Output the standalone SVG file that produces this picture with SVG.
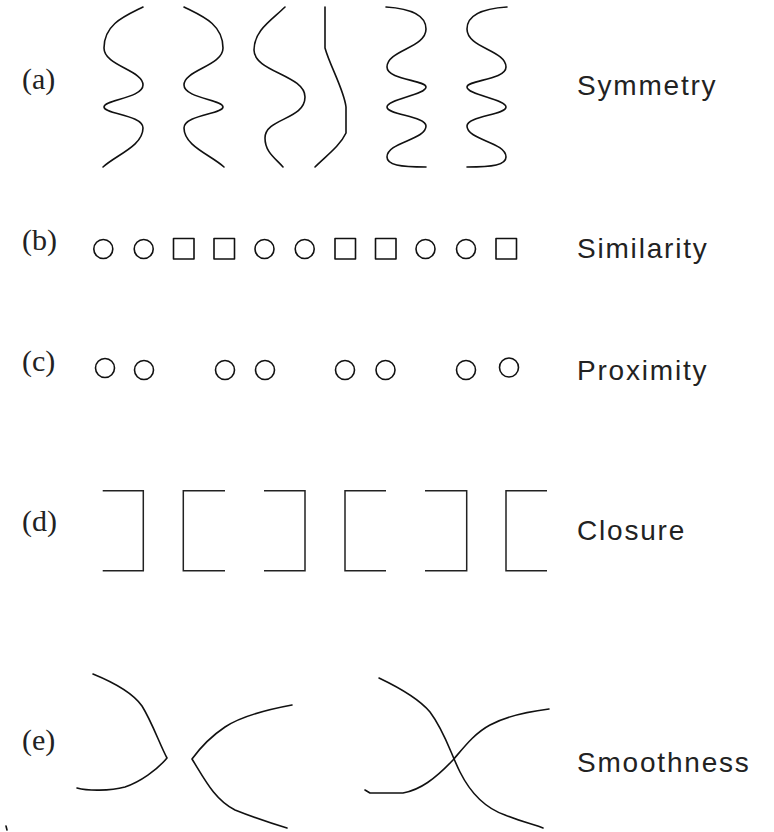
<svg xmlns="http://www.w3.org/2000/svg" xmlns:xlink="http://www.w3.org/1999/xlink" width="774" height="832" viewBox="0 0 774 832">
<style>
.ln{fill:none;stroke:#111;stroke-width:1.6;stroke-linejoin:round;stroke-linecap:round}
.br{fill:none;stroke:#222;stroke-width:1.5}
.lab{font-family:"Liberation Serif",serif;font-size:30px;fill:#222}
.name{font-family:"Liberation Sans",Arial,sans-serif;font-size:28px;letter-spacing:1.8px;fill:#222}
</style>
<defs>
<path id="c1" d="M143,7 C125,16 104,24 104,48 C104,66 143,70 143,85 C143,98 104,100 104,107 C104,114 143,115 143,128 C143,146 116,155 103,167"/>
<path id="c5" d="M386,7 C402,8 426,12 426,29 C426,48 387,50 387,67 C387,80 426,80 426,87 C426,95 387,99 387,107 C387,115 426,116 426,126 C426,140 387,142 387,157 C387,165 400,167 426,167"/>
</defs>
<rect width="774" height="832" fill="#fff"/>
<g id="row-a">
<text class="lab" x="22" y="89">(a)</text>
<use xlink:href="#c1" class="ln"/>
<use xlink:href="#c1" class="ln" transform="translate(327,0) scale(-1,1)"/>
<path class="ln" d="M285,7 C272,20 254,30 254,50 C254,72 305,75 305,97 C305,120 265,118 265,138 C265,152 275,158 283,167"/>
<path class="ln" d="M325,7 L325,48 C330,66 344,90 346,107 L346,133 C340,146 326,156 315,167"/>
<use xlink:href="#c5" class="ln"/>
<use xlink:href="#c5" class="ln" transform="translate(893,0) scale(-1,1)"/>
<text class="name" x="577" y="95">Symmetry</text>
</g>
<g id="row-b">
<text class="lab" x="22" y="250">(b)</text>
<g class="ln">
<circle cx="103.3" cy="249" r="9.5"/>
<circle cx="143.7" cy="249" r="9.5"/>
<rect x="173.5" y="238.5" width="20.5" height="20.5"/>
<rect x="214" y="238.5" width="20.5" height="20.5"/>
<circle cx="264.5" cy="249" r="9.5"/>
<circle cx="304.7" cy="249" r="9.5"/>
<rect x="335" y="238.5" width="20.5" height="20.5"/>
<rect x="375.5" y="238.5" width="20.5" height="20.5"/>
<circle cx="425.5" cy="249" r="9.5"/>
<circle cx="466" cy="249" r="9.5"/>
<rect x="496" y="238.5" width="20.5" height="20.5"/>
</g>
<text class="name" x="577" y="258">Similarity</text>
</g>
<g id="row-c">
<text class="lab" x="22" y="371">(c)</text>
<g class="ln">
<circle cx="105" cy="368" r="9.5"/>
<circle cx="144" cy="370" r="9.5"/>
<circle cx="225" cy="370" r="9.5"/>
<circle cx="265" cy="370" r="9.5"/>
<circle cx="345" cy="370" r="9.5"/>
<circle cx="385.5" cy="370" r="9.5"/>
<circle cx="466" cy="370" r="9.5"/>
<circle cx="509" cy="367.5" r="9.5"/>
</g>
<text class="name" x="577" y="380">Proximity</text>
</g>
<g id="row-d">
<text class="lab" x="22" y="531">(d)</text>
<g class="br">
<path d="M102.7,490.7 H143.3 V570.7 H102.7"/>
<path d="M225,490.7 H183.3 V570.7 H225"/>
<path d="M264,490.7 H305 V570.7 H264"/>
<path d="M386,490.7 H345 V570.7 H386"/>
<path d="M425,490.7 H466.7 V570.7 H425"/>
<path d="M547,490.7 H506 V570.7 H547"/>
</g>
<text class="name" x="577" y="540">Closure</text>
</g>
<g id="row-e">
<text class="lab" x="22" y="750">(e)</text>
<path class="ln" d="M93,674 C115,683 133,693 142,706 C152,722 160,745 167,758 C157,770 140,782 125,787 C110,791 88,791 77,788"/>
<path class="ln" d="M292,705 C265,710 240,717 225,727 C210,737 200,748 192,759 C205,780 215,800 235,810 C255,818 270,823 287,828"/>
<path class="ln" d="M379,678 C400,688 420,700 430,712 C445,732 450,752 460,772 C470,792 485,808 505,815 C520,821 535,825 543,828"/>
<path class="ln" d="M365,790 L370,793 L403,793 C420,790 435,779 453,760 C465,746 475,733 490,725 C505,717 525,712 549,709"/>
<text class="name" x="577" y="772">Smoothness</text>
</g>
<path class="ln" d="M6,826 L7,830" stroke-width="1.2"/>
</svg>
